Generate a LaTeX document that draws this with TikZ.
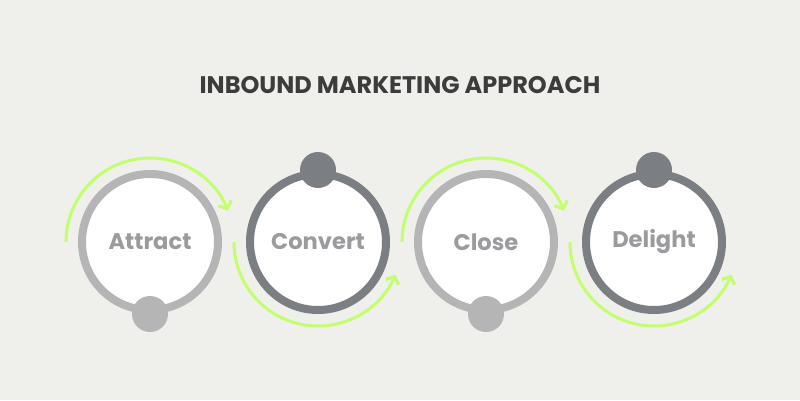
\documentclass[tikz,border=0pt]{standalone}
\usepackage{fontspec}
\setmainfont{Poppins}
\usepackage{xcolor}
\usetikzlibrary{positioning,arrows.meta}

\definecolor{bgcol}{HTML}{EFEFEB}
\definecolor{lightring}{HTML}{B5B5B5}
\definecolor{darkring}{HTML}{7B7E82}
\definecolor{limearc}{HTML}{C2FF6C}
\definecolor{labelgray}{HTML}{9B9B9F}
\definecolor{titlegray}{HTML}{3C3C3C}

\tikzset{
    stage/.style={circle, draw=#1, line width=8pt, fill=white, minimum size=136pt,
        inner sep=0pt, text=labelgray, font=\fontsize{22.6}{26}\selectfont\bfseries},
    knob/.style={circle, fill=#1, minimum size=36pt, inner sep=0pt},
    flow/.style={draw=limearc, line width=3pt, -{Straight Barb[length=6pt,width=14pt,line width=3pt]}}
}

\begin{document}
\begin{tikzpicture}[x=1pt, y=1pt]
    \fill [bgcol] (0,0) rectangle (800,400);
    \useasboundingbox (0,0) rectangle (800,400);

    \node [text=titlegray, font=\fontsize{24}{28}\selectfont\bfseries] (title) at (400,315) {INBOUND MARKETING APPROACH};

    % stages
    \node [stage=lightring] (attract) at (150,158) {Attract};
    \node [stage=darkring]  (convert) at (318,158) {Convert};
    \node [stage=lightring] (close)   at (486,158) {Close};
    \node [stage=darkring]  (delight) at (654,158) {Delight};

    % knobs on the rings
    \node [knob=lightring] (knobA) at (attract.south) {};
    \node [knob=darkring]  (knobB) at (convert.north) {};
    \node [knob=lightring] (knobC) at (close.south) {};
    \node [knob=darkring]  (knobD) at (delight.north) {};

    % green arrows round the stages
    \draw [flow] ([shift={(180:84)}]attract.center) arc [start angle=180, end angle=22, radius=84];
    \draw [flow] ([shift={(180:84)}]convert.center) arc [start angle=180, end angle=337, radius=84];
    \draw [flow] ([shift={(180:84)}]close.center) arc [start angle=180, end angle=22, radius=84];
    \draw [flow] ([shift={(180:84)}]delight.center) arc [start angle=180, end angle=337, radius=84];
\end{tikzpicture}
\end{document}
